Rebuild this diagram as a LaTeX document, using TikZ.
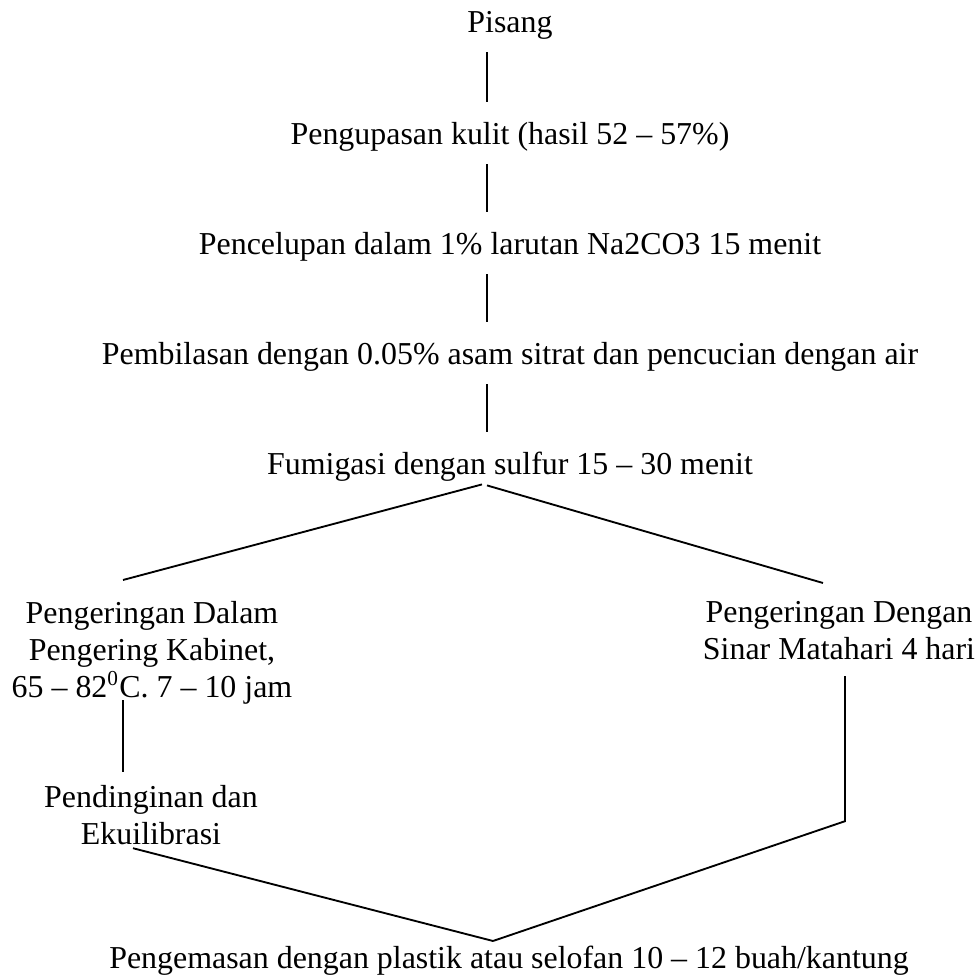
\documentclass[tikz,border=0pt]{standalone}
\usepackage{fontspec}
\setmainfont{Liberation Serif}

\begin{document}
\begin{tikzpicture}[x=0.376pt, y=-0.376pt,
  font=\fontsize{12}{13.8}\selectfont,
  langkah/.style={inner sep=0pt, align=center},
  tegak/.style={line width=0.7pt, shorten <=4.5pt, shorten >=7.7pt},
  garis/.style={line width=0.7pt}]
\useasboundingbox (0,0) rectangle (979,976);

\node (pisang) at (510,33) [langkah, anchor=base] {Pisang};
\node (kulit) at (510,145) [langkah, anchor=base] {Pengupasan kulit (hasil 52 – 57\%)};
\node (celup) at (510,255) [langkah, anchor=base] {Pencelupan dalam 1\% larutan Na2CO3 15 menit};
\node (bilas) at (510,365) [langkah, anchor=base] {Pembilasan dengan 0.05\% asam sitrat dan pencucian dengan air};
\node (fumigasi) at (510,475) [langkah, anchor=base] {Fumigasi dengan sulfur 15 – 30 menit};
\node (kabinet) at (152,601) [langkah, anchor=north] {Pengeringan Dalam\\ Pengering Kabinet,\\ 65 – 82\textsuperscript{0}C. 7 – 10 jam};
\node (matahari) at (839,601) [langkah, anchor=north] {Pengeringan Dengan\\ Sinar Matahari 4 hari};
\node (dingin) at (151,785) [langkah, anchor=north] {Pendinginan dan\\ Ekuilibrasi};
\node (kemas) at (509,969) [langkah, anchor=base] {Pengemasan dengan plastik atau selofan 10 – 12 buah/kantung};

\draw [tegak] ([shift={(-23,0)}]pisang.south) -- ([shift={(-23,0)}]kulit.north);
\draw [tegak] ([shift={(-23,0)}]kulit.south) -- ([shift={(-23,0)}]celup.north);
\draw [tegak] ([shift={(-23,0)}]celup.south) -- ([shift={(-23,0)}]bilas.north);
\draw [tegak] ([shift={(-23,0)}]bilas.south) -- ([shift={(-23,0)}]fumigasi.north);

\draw [garis] ([shift={(-28,2)}]fumigasi.south) -- ([shift={(-29,-21)}]kabinet.north);
\draw [garis] ([shift={(-23,3)}]fumigasi.south) -- ([shift={(-16,-18)}]matahari.north);

\draw [garis] ([shift={(-29,-4)}]kabinet.south) -- ([shift={(-28,-13)}]dingin.north);
\draw [garis] ([shift={(6,16)}]matahari.south) -- ++(0,145) -- ([shift={(-16,-5)}]kemas.north);
\draw [garis] ([shift={(-18,3)}]dingin.south) -- ([shift={(-16,-5)}]kemas.north);

\end{tikzpicture}
\end{document}
